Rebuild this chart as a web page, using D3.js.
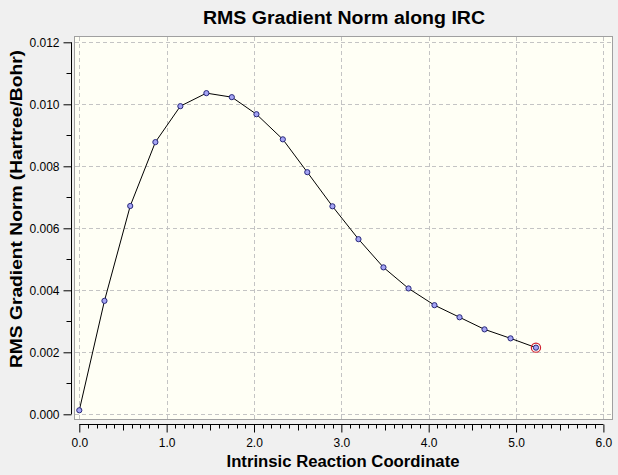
<!DOCTYPE html>
<html>
<head>
<meta charset="utf-8">
<script src="https://cdn.jsdelivr.net/npm/d3@7"></script>
<style>
  html, body { margin: 0; padding: 0; background: #f0f0f0; }
  svg { display: block; }
  text { font-family: "Liberation Sans", Arial, sans-serif; fill: #000; }
</style>
</head>
<body>
<div id="chart"></div>
<script>
// IRC points
var ircCoord = [0.000, 0.288, 0.583, 0.871, 1.157, 1.455, 1.746, 2.028, 2.330, 2.610,
                2.898, 3.196, 3.482, 3.769, 4.066, 4.353, 4.639, 4.937, 5.228]
var gradNorm = [0.00013, 0.00366, 0.00672, 0.00878, 0.00994, 0.01036, 0.01023, 0.00968, 0.00887, 0.00781,
                0.00671, 0.00565, 0.00474, 0.00406, 0.00352, 0.00313, 0.00274, 0.00245, 0.00215]
var xTicks = [0, 1, 2, 3, 4, 5, 6]
var yTicks = [0, 0.002, 0.004, 0.006, 0.008, 0.010, 0.012]
var titleText = "RMS Gradient Norm along IRC"
var xLabel = "Intrinsic Reaction Coordinate"
var yLabel = "RMS Gradient Norm (Hartree/Bohr)"

var width = 618, height = 475

var svg = d3.select("#chart").append("svg")
  .attr("width", width).attr("height", height)

// scales: pixel range measured from reference
var x = d3.scaleLinear().domain([0, 6]).range([79.3, 603.4])
var y = d3.scaleLinear().domain([0, 0.012]).range([414.3, 42.3])

// plot box
svg.append("rect")
  .attr("x", 74.5).attr("y", 36.5)
  .attr("width", 538).attr("height", 383)
  .attr("fill", "#fffff5")
  .attr("stroke", "#a0a0a0")

// grid
svg.selectAll(".vgrid").data(xTicks).enter().append("line")
  .attr("class", "vgrid")
  .attr("x1", function(d) { return Math.round(x(d)) + 0.5 })
  .attr("x2", function(d) { return Math.round(x(d)) + 0.5 })
  .attr("y1", 37).attr("y2", 419)
  .attr("stroke", "#c4c4c4").attr("stroke-dasharray", "4,3")

svg.selectAll(".hgrid").data(yTicks).enter().append("line")
  .attr("class", "hgrid")
  .attr("y1", function(d) { return Math.round(y(d)) + 0.5 })
  .attr("y2", function(d) { return Math.round(y(d)) + 0.5 })
  .attr("x1", 75).attr("x2", 612)
  .attr("stroke", "#c4c4c4").attr("stroke-dasharray", "4,3")

// y axis (sits left of the box)
var yAxis = d3.axisLeft(y).tickValues(yTicks).tickSize(8).tickPadding(4)
  .tickFormat(d3.format(".3f"))
var gy = svg.append("g").attr("transform", "translate(71.5,0)").call(yAxis)
gy.select(".domain").attr("d", "M0," + y(0) + "V" + y(0.012))
var yMinor = d3.range(13).map(function(i) { return i * 0.001 }).filter(function(d, i) { return i % 2 == 1 })
gy.selectAll(".minor").data(yMinor).enter().append("line")
  .attr("class", "minor")
  .attr("x1", -5).attr("x2", 0)
  .attr("y1", function(d) { return Math.round(y(d)) + 0.5 })
  .attr("y2", function(d) { return Math.round(y(d)) + 0.5 })
  .attr("stroke", "#000")

// x axis (sits below the box)
var xAxis = d3.axisBottom(x).tickValues(xTicks).tickSize(8).tickPadding(6)
  .tickFormat(d3.format(".1f"))
var gx = svg.append("g").attr("transform", "translate(0,424.5)").call(xAxis)
gx.select(".domain").attr("d", "M" + x(0) + ",0H" + x(6))
var xMinor = d3.range(61).map(function(i) { return i / 10 }).filter(function(d, i) { return i % 10 != 0 })
gx.selectAll(".minor").data(xMinor).enter().append("line")
  .attr("class", "minor")
  .attr("y1", 0)
  .attr("y2", function(d, i) { return (i % 9 == 4) ? 6 : 4 })
  .attr("x1", function(d) { return Math.round(x(d)) + 0.5 })
  .attr("x2", function(d) { return Math.round(x(d)) + 0.5 })
  .attr("stroke", "#000")

svg.selectAll(".tick text").attr("font-size", "12px").attr("font-family", "Liberation Sans, Arial, sans-serif")
svg.selectAll(".tick line, .domain").attr("stroke", "#000")

// the curve
var pts = ircCoord.map(function(d, i) { return [d, gradNorm[i]] })
var line = d3.line()
  .x(function(d) { return x(d[0]) })
  .y(function(d) { return y(d[1]) })
svg.append("path").datum(pts)
  .attr("d", line)
  .attr("fill", "none").attr("stroke", "#000").attr("stroke-width", 1)

svg.selectAll(".pt").data(pts).enter().append("circle")
  .attr("class", "pt")
  .attr("cx", function(d) { return x(d[0]) })
  .attr("cy", function(d) { return y(d[1]) })
  .attr("r", 2.6)
  .attr("fill", "#a4a4f4").attr("stroke", "#28287a").attr("stroke-width", 1)

// highlighted last point
var last = pts[pts.length - 1]
svg.append("circle")
  .attr("cx", x(last[0])).attr("cy", y(last[1]))
  .attr("r", 4.6)
  .attr("fill", "none").attr("stroke", "#d02030").attr("stroke-width", 1.2)

// titles
svg.append("text")
  .attr("x", 344).attr("y", 24)
  .attr("text-anchor", "middle")
  .attr("font-size", "18px").attr("font-weight", "bold")
  .attr("textLength", 282).attr("lengthAdjust", "spacingAndGlyphs")
  .text(titleText)

svg.append("text")
  .attr("x", 343).attr("y", 467)
  .attr("text-anchor", "middle")
  .attr("font-size", "16px").attr("font-weight", "bold")
  .attr("textLength", 233).attr("lengthAdjust", "spacingAndGlyphs")
  .text(xLabel)

svg.append("text")
  .attr("transform", "translate(21.5,209) rotate(-90)")
  .attr("text-anchor", "middle")
  .attr("font-size", "16px").attr("font-weight", "bold")
  .attr("textLength", 318).attr("lengthAdjust", "spacingAndGlyphs")
  .text(yLabel)
</script>
</body>
</html>
